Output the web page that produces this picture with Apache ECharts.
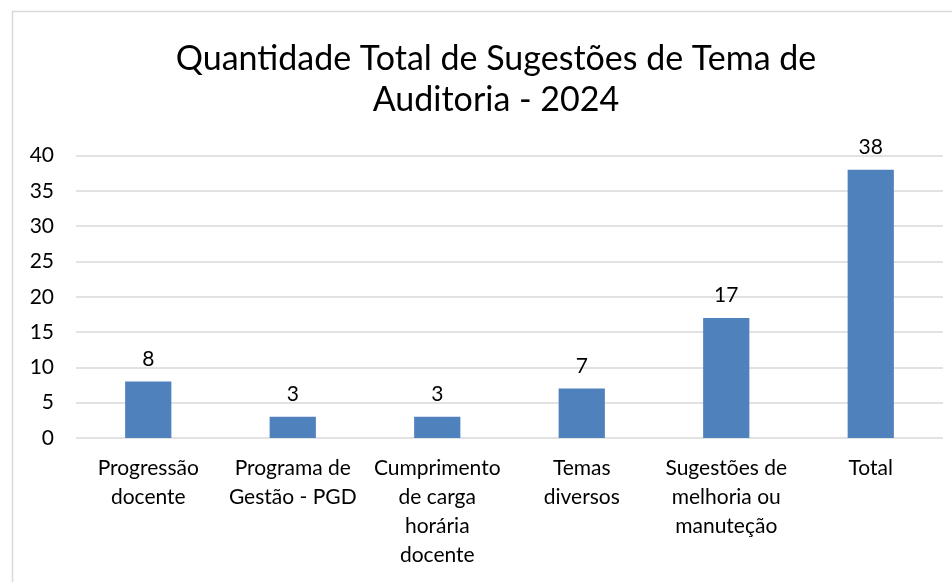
<!DOCTYPE html>
<html>
<head>
<meta charset="utf-8">
<script src="https://cdn.jsdelivr.net/npm/echarts@6/dist/echarts.min.js"></script>
<style>
  html, body { margin: 0; padding: 0; background: #fff; }
  #main { width: 952px; height: 582px; }
</style>
</head>
<body>
<div id="main"></div>
<script>
// categorias (quebras de linha como no original)
var categorias = [
  'Progressão\ndocente',
  'Programa de\nGestão - PGD',
  'Cumprimento\nde carga\nhorária\ndocente',
  'Temas\ndiversos',
  'Sugestões de\nmelhoria ou\nmanuteção',
  'Total'
];
var quantidades = [8, 3, 3, 7, 17, 38];
var tituloLinhas = ['Quantidade Total de Sugestões de Tema de', 'Auditoria - 2024'];

var fonte = 'Lato, "Open Sans", sans-serif';

var chart = echarts.init(document.getElementById('main'));
chart.setOption({
  backgroundColor: '#fff',
  animation: false,
  graphic: [{
    // moldura do gráfico
    type: 'rect',
    shape: { x: 12.5, y: 11.5, width: 960, height: 600 },
    style: { fill: 'none', stroke: '#d9d9d9', lineWidth: 1.5 },
    z: -1
  }],
  title: {
    text: tituloLinhas.join('\n'),
    left: 491,
    top: 34,
    textAlign: 'center',
    textStyle: {
      fontFamily: fonte,
      fontSize: 34,
      fontWeight: 'normal',
      color: '#000',
      lineHeight: 41
    }
  },
  grid: { left: 76, right: 9, top: 155.5, bottom: 144 },
  xAxis: {
    type: 'category',
    data: categorias,
    axisLine: { show: false },
    axisTick: { show: false },
    axisLabel: {
      interval: 0,
      margin: 16,
      fontFamily: fonte,
      fontSize: 21,
      color: '#000',
      lineHeight: 29
    }
  },
  yAxis: {
    type: 'value',
    min: 0,
    max: 40,
    interval: 5,
    axisLabel: {
      margin: 22,
      fontFamily: fonte,
      fontSize: 21,
      color: '#000'
    },
    splitLine: { lineStyle: { color: '#d9d9d9', width: 1.5 } }
  },
  series: [{
    type: 'bar',
    data: quantidades,
    barWidth: '32%',
    itemStyle: { color: '#4f81bd' },
    label: {
      show: true,
      position: 'top',
      distance: 12,
      fontFamily: fonte,
      fontSize: 21,
      color: '#000'
    }
  }]
});
</script>
</body>
</html>
